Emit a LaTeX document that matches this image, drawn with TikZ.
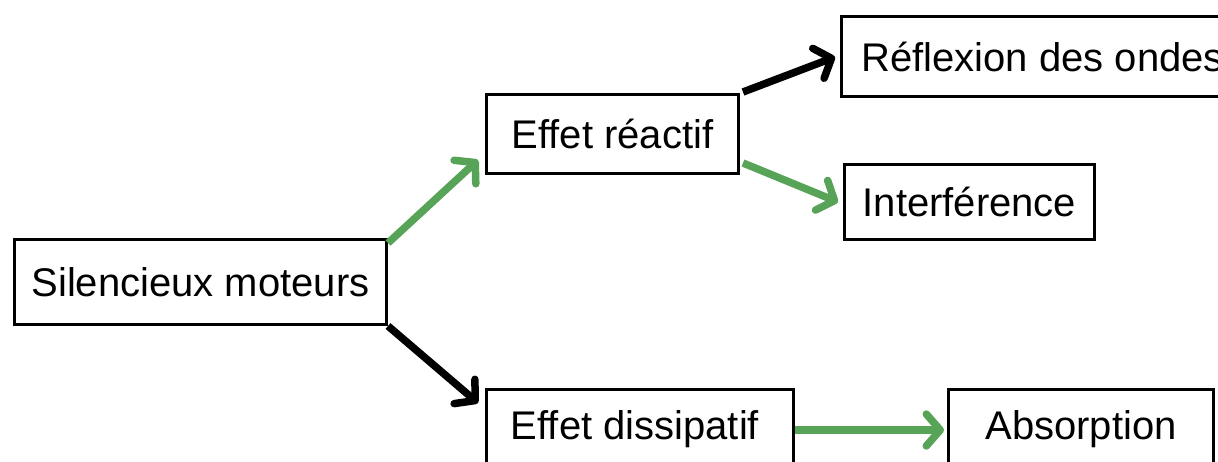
\documentclass[tikz,border=0pt]{standalone}
\usepackage{fontspec}
\setmainfont{Liberation Sans}
\usetikzlibrary{arrows.meta}
\definecolor{arrgreen}{RGB}{87,163,87}
\begin{document}
\begin{tikzpicture}[x=1pt,y=-1pt,
  box/.style={draw=black, line width=3pt, inner sep=0pt, anchor=north west, font=\fontsize{40}{47}\selectfont},
  conn/.style={line width=7.5pt, -{Straight Barb[length=14pt,width=32pt,line cap=round,line join=round]}},
  gconn/.style={conn, draw=arrgreen},
  kconn/.style={conn, draw=black}]
\useasboundingbox (0,0) rectangle (1218,461);
\clip (0,0) rectangle (1218,461);
\node[box, minimum width=372pt, minimum height=85pt] (sil) at (13,238) {Silencieux moteurs};
\node[box, minimum width=252pt, minimum height=79pt] (rea) at (485,93) {Effet réactif};
\node[box, minimum width=400pt, minimum height=80pt] (ref) at (840,15) {\makebox[360pt][l]{Réflexion des ondes}};
\node[box, minimum width=250pt, minimum height=75pt] (int) at (843,163) {Interférence};
\node[box, minimum width=307pt, minimum height=80pt] (dis) at (485,388) {\hspace*{-10pt}Effet dissipatif};
\node[box, minimum width=265pt, minimum height=80pt] (abs) at (947,388) {Absorption};
\draw[gconn] ([shift={(0,5)}]sil.north east) -- ([shift={(-7,-15)}]rea.south west);
\draw[kconn] ([shift={(3,-1)}]rea.north east) -- ([shift={(-5,42)}]ref.north west);
\draw[gconn] ([shift={(3,-12)}]rea.south east) -- ([shift={(-5,39)}]int.north west);
\draw[kconn] (sil.south east) -- ([shift={(-7,15)}]dis.north west);
\draw[gconn] ([shift={(0,42)}]dis.north east) -- ([shift={(-3,42)}]abs.north west);
\end{tikzpicture}
\end{document}
